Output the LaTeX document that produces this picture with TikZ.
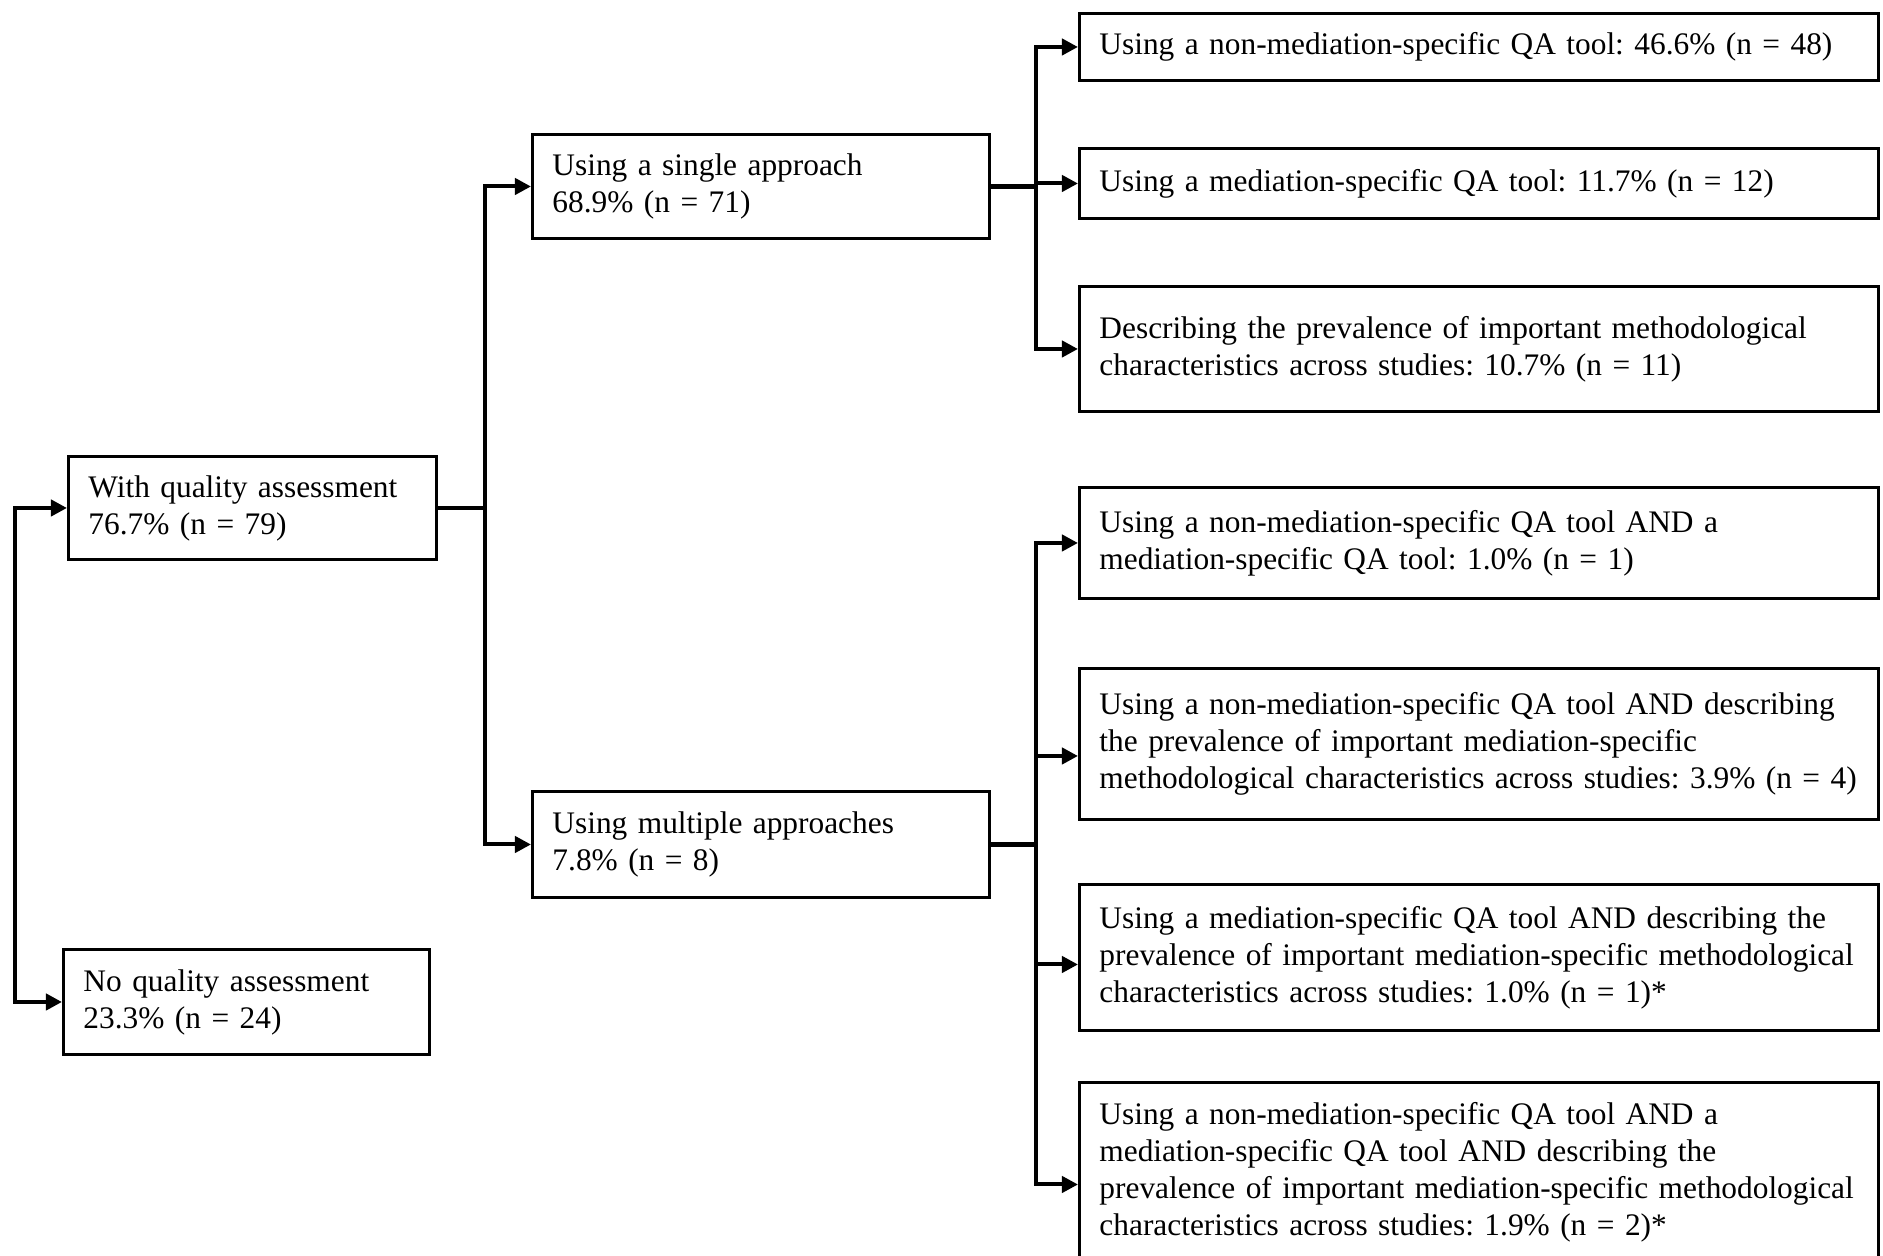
\documentclass[tikz,border=0pt]{standalone}
\usepackage{fontspec}
\setmainfont{Liberation Serif}
\usetikzlibrary{positioning}
\usetikzlibrary{arrows.meta}
\newdimen\px
\px=0.373pt
\frenchspacing

\begin{document}
\begin{tikzpicture}[x=0.373pt, y={(0,-0.373pt)},
	box/.style={draw, line width=1.1pt, anchor=north west, align=left, inner xsep=20\px, inner ysep=0pt, font=\fontsize{11.7}{13.8}\selectfont},
	link/.style={line width=1.5pt, -{Triangle[length=6pt, width=6pt]}}]
					\useasboundingbox (0,0) rectangle (1883,1256);
					\clip (0,0) rectangle (1883,1256);

					\node[box, minimum width=368\px, minimum height=103\px, text width=328\px] (wqa) at (67,455) {With quality assessment\\76.7\% (n = 79)};
					\node[box, minimum width=366\px, minimum height=105\px, text width=326\px] (nqa) at (62,948) {No quality assessment\\23.3\% (n = 24)};
					\node[box, minimum width=457\px, minimum height=104\px, text width=417\px] (single) at (531,133) {Using a single approach\\68.9\% (n = 71)};
					\node[box, minimum width=457\px, minimum height=106\px, text width=417\px] (multi) at (531,790) {Using multiple approaches\\7.8\% (n = 8)};

					\node[box, minimum width=799\px, minimum height=67\px, text width=759\px] (r1) at (1078,12) {Using a non-mediation-specific QA tool: 46.6\% (n = 48)};
					\node[box, minimum width=799\px, minimum height=70\px, text width=759\px] (r2) at (1078,147) {Using a mediation-specific QA tool: 11.7\% (n = 12)};
					\node[box, minimum width=799\px, minimum height=125\px, text width=759\px] (r3) at (1078,285) {Describing the prevalence of important methodological\\characteristics across studies: 10.7\% (n = 11)};
					\node[box, minimum width=799\px, minimum height=111\px, text width=759\px] (r4) at (1078,486) {Using a non-mediation-specific QA tool AND a\\mediation-specific QA tool: 1.0\% (n = 1)};
					\node[box, minimum width=799\px, minimum height=151\px, text width=759\px] (r5) at (1078,667) {Using a non-mediation-specific QA tool AND describing\\the prevalence of important mediation-specific\\methodological characteristics across studies: 3.9\% (n~=~4)};
					\node[box, minimum width=799\px, minimum height=146\px, text width=759\px] (r6) at (1078,883) {Using a mediation-specific QA tool AND describing the\\prevalence of important mediation-specific methodological\\characteristics across studies: 1.0\% (n = 1)*};
					\node[box, minimum width=799\px, minimum height=180\px, text width=759\px] (r7) at (1078,1081) {Using a non-mediation-specific QA tool AND a\\mediation-specific QA tool AND describing the\\prevalence of important mediation-specific methodological\\characteristics across studies: 1.9\% (n = 2)*};

					\coordinate (root) at (15,750);
					\coordinate[right=47\px of wqa] (j1);
					\coordinate[right=45\px of single] (j2);
					\coordinate[right=45\px of multi] (j3);

					\draw[link] (root) |- (wqa.west);
					\draw[link] (root) |- (nqa.west);

					\draw[line width=1.5pt] (wqa.east) -- (j1);
					\draw[link] (j1) |- (single.west);
					\draw[link] (j1) |- (multi.west);

					\draw[line width=2pt] (single.east) -- (j2);
					\foreach \r in {r1,r2,r3}
						\draw[link] (j2) |- (\r.west);

					\draw[line width=2pt] (multi.east) -- (j3);
					\foreach \r/\s in {r4/0,r5/12,r6/7,r7/12}
						\draw[link] (j3) |- ([yshift=-\s*0.373pt]\r.west);
\end{tikzpicture}
\end{document}
